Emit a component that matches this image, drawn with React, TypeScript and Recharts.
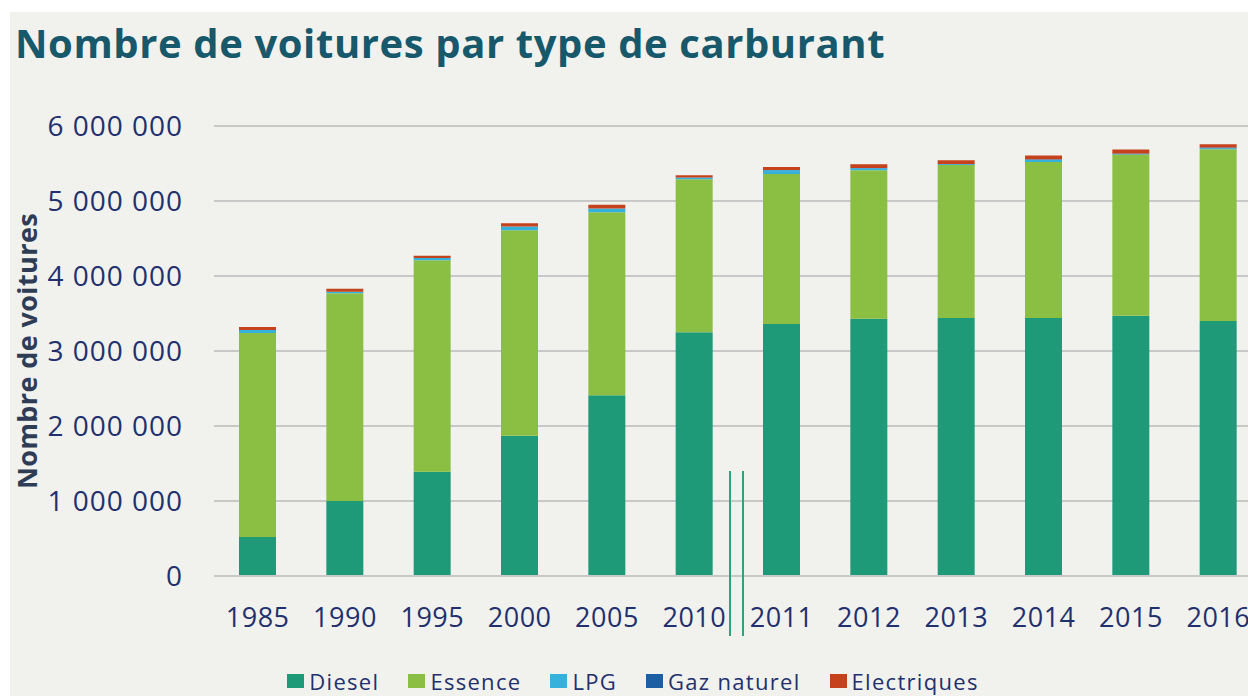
import React from "react";
import {
  Bar,
  BarChart,
  CartesianGrid,
  Label,
  Legend,
  XAxis,
  YAxis,
} from "recharts";

// Values (number of cars)
const years = ["1985", "1990", "1995", "2000", "2005", "2010", "2011", "2012", "2013", "2014", "2015", "2016"];
const diesel = [520000, 1000000, 1390000, 1870000, 2410000, 3250000, 3360000, 3430000, 3440000, 3440000, 3470000, 3400000];
const essence = [2720000, 2770000, 2820000, 2740000, 2440000, 2040000, 2000000, 1980000, 2040000, 2080000, 2150000, 2290000];
const lpg = [40000, 20000, 30000, 50000, 50000, 20000, 50000, 27000, 10000, 30000, 5000, 15000];
const gazNaturel = [0, 0, 0, 0, 1000, 2000, 3000, 4000, 5000, 6000, 7000, 8000];
const electriques = [40000, 40000, 30000, 45000, 50000, 30000, 40000, 50000, 50000, 50000, 55000, 45000];
const yTicks = [0, 1000000, 2000000, 3000000, 4000000, 5000000, 6000000];

const series = [
  { key: "diesel", name: "Diesel", color: "#1f9a78" },
  { key: "essence", name: "Essence", color: "#8bbf44" },
  { key: "lpg", name: "LPG", color: "#34b2dc" },
  { key: "gaz", name: "Gaz naturel", color: "#1e5fa4" },
  { key: "elec", name: "Electriques", color: "#c6421c" },
];

const data = years.map((year, i) => ({
  year,
  diesel: diesel[i],
  essence: essence[i],
  lpg: lpg[i],
  gaz: gazNaturel[i],
  elec: electriques[i],
}));

const FONT = "'Open Sans', 'Noto Sans', sans-serif";
const TEXT_COLOR = "#22306e";

const formatNumber = (v: number) =>
  String(v).replace(/\B(?=(\d{3})+(?!\d))/g, " ");

const LegendContent = () => (
  <div
    style={{
      height: 40,
      display: "flex",
      justifyContent: "center",
      alignItems: "center",
      gap: 29,
      paddingTop: 10,
      marginLeft: -6,
      boxSizing: "border-box",
      fontFamily: FONT,
      fontSize: 22,
      letterSpacing: 1.3,
      color: TEXT_COLOR,
    }}
  >
    {series.map((s) => (
      <div key={s.key} style={{ display: "flex", alignItems: "center" }}>
        <span
          style={{
            display: "inline-block",
            width: 17,
            height: 14,
            background: s.color,
            marginRight: 5,
          }}
        />
        <span>{s.name}</span>
      </div>
    ))}
  </div>
);

export default function App() {
  return (
    <div
      style={{
        position: "fixed",
        left: 0,
        top: 0,
        width: 1248,
        height: 696,
        overflow: "hidden",
        background: "#ffffff",
      }}
    >
      <div
        style={{
          position: "absolute",
          left: 10,
          top: 12,
          width: 1238,
          height: 684,
          background: "#f1f2ee",
          overflow: "hidden",
        }}
      >
        <div
          style={{
            position: "absolute",
            left: 5,
            top: 11,
            fontFamily: FONT,
            fontWeight: 700,
            fontSize: 40,
            letterSpacing: 0.6,
            lineHeight: "39px",
            color: "#17586b",
            whiteSpace: "nowrap",
          }}
        >
          Nombre de voitures par type de carburant
        </div>
        <BarChart
          width={1260}
          height={684}
          data={data}
          margin={{ top: 114, right: 8, bottom: 0, left: 0 }}
          barSize={37}
        >
          <CartesianGrid vertical={false} stroke="#c8c8c8" strokeWidth={2} />
          <XAxis
            dataKey="year"
            height={80}
            tickLine={false}
            tickSize={0}
            tickMargin={32}
            axisLine={{ stroke: "#c8c8c8", strokeWidth: 2 }}
            tick={{ fill: TEXT_COLOR, fontSize: 27, fontFamily: FONT, letterSpacing: 0.5 }}
            interval={0}
          />
          <YAxis
            width={204}
            domain={[0, 6000000]}
            ticks={yTicks}
            tickFormatter={formatNumber}
            axisLine={false}
            tickLine={false}
            tickSize={0}
            tickMargin={31}
            tick={{ fill: TEXT_COLOR, fontSize: 28, fontFamily: FONT, letterSpacing: 1 }}
          >
            <Label
              content={({ viewBox }: any) => {
                const cx = 16;
                const cy = viewBox.y + viewBox.height / 2;
                return (
                  <text
                    x={cx}
                    y={cy}
                    transform={`rotate(-90, ${cx}, ${cy})`}
                    textAnchor="middle"
                    dominantBaseline="central"
                    fill="#2e3d55"
                    fontFamily={FONT}
                    fontWeight={700}
                    fontSize={27}
                    letterSpacing={0.4}
                  >
                    Nombre de voitures
                  </text>
                );
              }}
            />
          </YAxis>
          <Legend verticalAlign="bottom" height={40} content={<LegendContent />} />
          {series.map((s) => (
            <Bar
              key={s.key}
              dataKey={s.key}
              name={s.name}
              stackId="a"
              fill={s.color}
              isAnimationActive={false}
            />
          ))}
        </BarChart>
      </div>
      {/* axis break marks between 2010 and 2011 */}
      <div style={{ position: "absolute", left: 729, top: 471, width: 2, height: 165, background: "#2ea37f" }} />
      <div style={{ position: "absolute", left: 742, top: 471, width: 2, height: 165, background: "#2ea37f" }} />
    </div>
  );
}
